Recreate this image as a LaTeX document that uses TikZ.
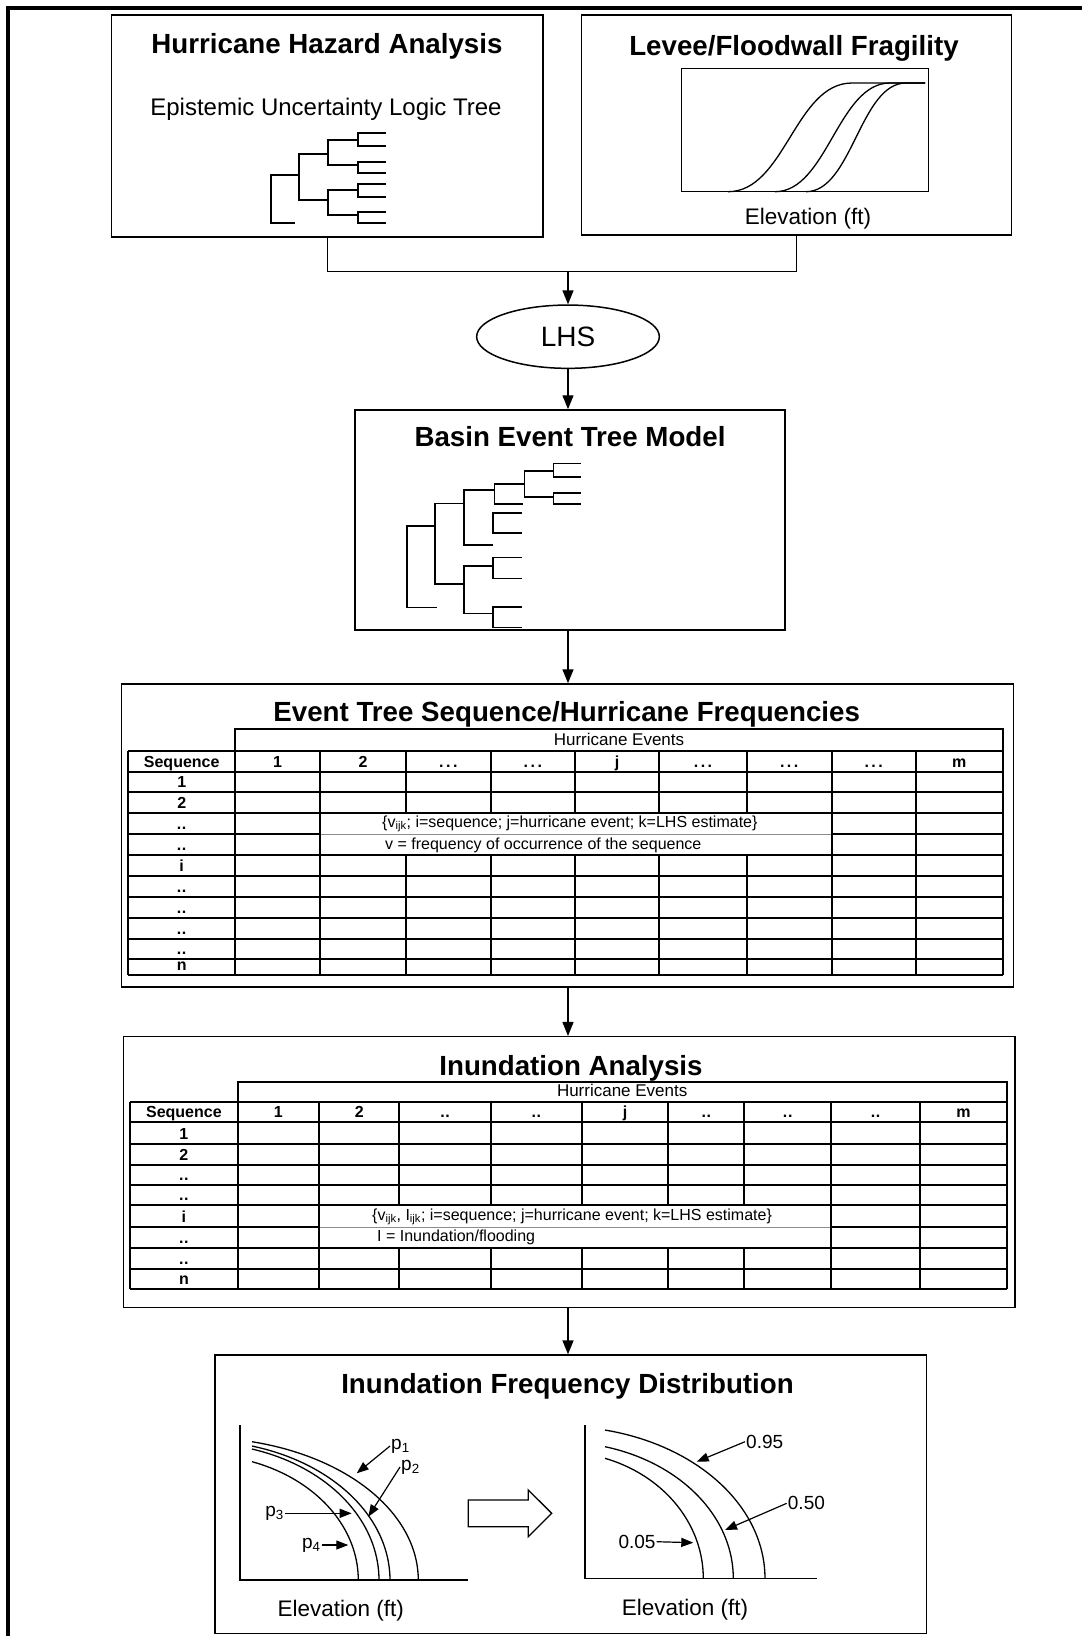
\documentclass[tikz,border=0pt]{standalone}
\usepackage{fontspec}
\setmainfont{Liberation Sans}
\usetikzlibrary{arrows.meta,positioning,shapes.geometric}
\newcommand{\twodots}{.\kern0.6pt.}
\newcommand{\threedots}{.\kern2.5pt.\kern2.5pt.}

\begin{document}
\begin{tikzpicture}[x=1pt,y=-1pt,
  box/.style={draw,line width=1.5pt,inner sep=0pt},
  arr/.style={-{Triangle[length=14pt,width=11pt]},line width=1.4pt},
  parr/.style={-{Triangle[length=12pt,width=9pt]},line width=1.2pt},
  tree/.style={line width=1.6pt},
  grid/.style={line width=1.8pt},
  faint/.style={line width=0.8pt,black!45},
  curve/.style={line width=1.3pt},
  ttl/.style={font=\fontsize{27.7}{30}\selectfont\bfseries,inner sep=0pt,anchor=base},
  sub/.style={font=\fontsize{24}{26}\selectfont,inner sep=0pt,anchor=base},
  axl/.style={font=\fontsize{22.5}{24}\selectfont,inner sep=0pt,anchor=base},
  hd/.style={font=\fontsize{16}{17}\selectfont\bfseries,inner sep=0pt,anchor=base},
  ev/.style={font=\fontsize{17}{18}\selectfont,inner sep=0pt,anchor=base},
  note/.style={font=\fontsize{16}{17}\selectfont,inner sep=0pt,anchor=base west},
  lab/.style={font=\fontsize{19}{20}\selectfont,inner sep=1pt}]
\useasboundingbox (0,0) rectangle (1082,1636);
\draw[line width=4pt] (8,1636) -- (8,8) -- (1082,8);

% top boxes
\node[box,minimum width=431.3pt,minimum height=222pt] (hazard) at (327.35,126) {};
\node[ttl] (hazard-t) at (327,53) {Hurricane Hazard Analysis};
\node[sub] (hazard-s) at (326,115) {Epistemic Uncertainty Logic Tree};
\draw[tree] (299,175) -- (271,175) -- (271,223) -- (295,223);
\draw[tree] (328,154) -- (299,154) -- (299,200) -- (328,200);
\foreach \ya/\yb in {140/165,190/215}
  \draw[tree] (358,\ya) -- (328,\ya) -- (328,\yb) -- (358,\yb);
\foreach \ya/\yb in {133/146,162/173,184/197,212/223}
  \draw[tree] (386,\ya) -- (358,\ya) -- (358,\yb) -- (386,\yb);

\node[box,minimum width=430pt,minimum height=220pt] (levee) at (796.7,125) {};
\node[ttl] (levee-t) at (794,55) {Levee/Floodwall Fragility};
\node[box,minimum width=246.6pt,minimum height=123.4pt] (frag) at (805,130) {};
\draw[curve] (728,191.7) .. controls (785,191.7) and (795,83) .. (852,83) -- (925,83);
\draw[curve] (775,191.7) .. controls (827,191.7) and (838,83) .. (890,83) -- (925,83);
\draw[curve] (806,191.7) .. controls (852,191.7) and (860,83) .. (906,83) -- (925,83);
\node[axl] (levee-x) at (808,224) {Elevation (ft)};

% LHS
\coordinate (join) at (568,271.7);
\node[box,ellipse,minimum width=182.7pt,minimum height=63.3pt,font=\fontsize{28}{30}\selectfont] (lhs) at (568,336.7) {LHS};
\draw[line width=1.4pt] (hazard.south) |- (join) -| (levee.south);
\draw[arr] (join) -- (lhs.north);

% basin event tree
\node[box,minimum width=430pt,minimum height=220pt] (basin) at (570,520) {};
\node[ttl] (basin-t) at (570,446.7) {Basin Event Tree Model};
\draw[arr] (lhs.south) -- (basin.north -| lhs.south);
\draw[tree] (435,526) -- (406.7,526) -- (406.7,607.3) -- (436.7,607.3);
\draw[tree] (464,503.3) -- (435,503.3) -- (435,584) -- (464,584);
\draw[tree] (494.3,490) -- (464,490) -- (464,545) -- (492.7,545);
\draw[tree] (524.3,484) -- (494.3,484) -- (494.3,504) -- (522.7,504);
\draw[tree] (553.3,470.7) -- (524.3,470.7) -- (524.3,496.7) -- (553.3,496.7);
\foreach \ya/\yb in {463.3/476.7,492.7/504}
  \draw[tree] (580.7,\ya) -- (553.3,\ya) -- (553.3,\yb) -- (580.7,\yb);
\draw[tree] (492.7,566) -- (464,566) -- (464,613.3) -- (492.7,613.3);
\foreach \ya/\yb in {512.7/532.7,557.3/578.3,606.7/627.3}
  \draw[tree] (522,\ya) -- (492.7,\ya) -- (492.7,\yb) -- (522,\yb);

% sequence frequency table
\node[box,minimum width=891.6pt,minimum height=303pt] (seqtab) at (567.5,835.5) {};
\node[ttl] (seqtab-t) at (566.7,721.7) {Event Tree Sequence/Hurricane Frequencies};
\draw[arr] (basin.south -| join) -- (seqtab.north -| join);
\draw[grid] (235,729.3) rectangle (1002.7,750.7);
\node[ev] (seqtab-h) at (619,745.7) {Hurricane Events};
\foreach \y in {750.7,771.7,792,812.7,855.3,876.3,897.3,918.3,939.3,959.3,975}
  \draw[grid] (128.3,\y) -- (1002.7,\y);
\draw[grid] (128.3,834) -- (320,834) (831.7,834) -- (1002.7,834);
\draw[faint] (320,834) -- (831.7,834);
\foreach \x in {128.3,235,320,831.7,915.7,1002.7}
  \draw[grid] (\x,750.7) -- (\x,975);
\foreach \x in {406,490.7,575,659.3,746.7}
  \draw[grid] (\x,750.7) -- (\x,812.7) (\x,855.3) -- (\x,975);
\foreach \lab/\y [count=\k] in {Sequence/767.2,1/787.5,2/808.2,\twodots/829.5,\twodots/850.8,i/871.8,\twodots/892.8,\twodots/913.8,\twodots/934.8,\twodots/954.8,n/970.5}
  \node[hd] (seqtab-r\k) at (181.7,\y) {\lab};
\foreach \x/\lab [count=\k] in {277.5/1,363/2,448.4/\threedots,532.9/\threedots,617.2/j,703/\threedots,789.2/\threedots,873.7/\threedots,959.2/m}
  \node[hd] (seqtab-c\k) at (\x,767.2) {\lab};
\node[note] (seqtab-n1) at (382,827) {\{v\textsubscript{ijk}; i=sequence; j=hurricane event; k=LHS estimate\}};
\node[note] (seqtab-n2) at (385,849) {v = frequency of occurrence of the sequence};

% inundation table
\node[box,minimum width=891.7pt,minimum height=270.6pt] (inutab) at (569.2,1172) {};
\node[ttl] (inutab-t) at (571,1075) {Inundation Analysis};
\draw[arr] (seqtab.south -| join) -- (inutab.north -| join);
\draw[grid] (237.7,1081.7) rectangle (1006.7,1101.7);
\node[ev] (inutab-h) at (622.2,1096.7) {Hurricane Events};
\foreach \y in {1101.7,1121.7,1144,1165,1185,1205,1248.3,1269.3,1289.3}
  \draw[grid] (130,\y) -- (1006.7,\y);
\draw[grid] (130,1227.3) -- (319,1227.3) (831,1227.3) -- (1006.7,1227.3);
\draw[faint] (319,1227.3) -- (831,1227.3);
\foreach \x in {130,237.7,319,831,920,1006.7}
  \draw[grid] (\x,1101.7) -- (\x,1289.3);
\foreach \x in {399.3,490.7,582,668.3,744.3}
  \draw[grid] (\x,1101.7) -- (\x,1205) (\x,1248.3) -- (\x,1289.3);
\foreach \lab/\y [count=\k] in {Sequence/1117.2,1/1139.5,2/1160.5,\twodots/1180.5,\twodots/1200.5,i/1222.8,\twodots/1243.8,\twodots/1264.8,n/1284.8}
  \node[hd] (inutab-r\k) at (183.9,\y) {\lab};
\foreach \x/\lab [count=\k] in {278.4/1,359.2/2,445/\twodots,536.4/\twodots,625.2/j,706.3/\twodots,787.7/\twodots,875.5/\twodots,963.4/m}
  \node[hd] (inutab-c\k) at (\x,1117.2) {\lab};
\node[note] (inutab-n1) at (372,1220) {\{v\textsubscript{ijk}, I\textsubscript{ijk}; i=sequence; j=hurricane event; k=LHS estimate\}};
\node[note] (inutab-n2) at (377,1241.7) {I = Inundation/flooding};

% inundation frequency distribution
\node[box,minimum width=711.7pt,minimum height=278.3pt] (freq) at (570.85,1494.2) {};
\node[ttl] (freq-t) at (567.5,1393) {Inundation Frequency Distribution};
\draw[arr] (inutab.south -| join) -- (freq.north -| join);
\draw[tree] (240,1425) -- (240,1580) -- (468.3,1580);
\foreach \ra/\rb/\ang in {218.3/142.4/76.2,190/139.3/74.1,179/136.9/73.1,158.3/125.3/70.8}
  \draw[curve] plot[domain=\ang:0,samples=40] ({200+\ra*cos(\x)},{1580-\rb*sin(\x)});
\node[lab,anchor=west] (p1) at (390,1446) {p\textsubscript{1}};
\node[lab,anchor=west] (p2) at (400,1467) {p\textsubscript{2}};
\node[lab,anchor=east] (p3) at (285,1513.3) {p\textsubscript{3}};
\node[lab,anchor=east] (p4) at (321.7,1545) {p\textsubscript{4}};
\coordinate (p1-tip) at (356.7,1473.3);
\coordinate (p2-tip) at (368.3,1516.7);
\coordinate (p3-tip) at (351.7,1513.3);
\coordinate (p4-tip) at (348.3,1545);
\foreach \p in {p1,p2}
  \draw[parr] (\p.west) -- (\p-tip);
\foreach \p in {p3,p4}
  \draw[parr] (\p.east) -- (\p-tip);
\node[axl] (freq-x1) at (340.8,1616.7) {Elevation (ft)};
\draw[line width=1.3pt] (468.3,1500) -- (528.3,1500) -- (528.3,1490) -- (551.7,1513.3) -- (528.3,1536.7) -- (528.3,1526.7) -- (468.3,1526.7) -- cycle;
\draw[tree] (585,1425) -- (585,1578.3) -- (816.7,1578.3);
\foreach \ra/\rb/\ang in {205/152/77.3,173.3/136.3/74.95,143.3/126.4/71.7}
  \draw[curve] plot[domain=\ang:0,samples=40] ({560+\ra*cos(\x)},{1578.3-\rb*sin(\x)});
\node[lab,anchor=west] (q95) at (745,1441.7) {0.95};
\node[lab,anchor=west] (q50) at (786.7,1503.3) {0.50};
\node[lab,anchor=east] (q05) at (656.7,1541.7) {0.05};
\coordinate (q95-tip) at (696.7,1461.7);
\coordinate (q50-tip) at (725,1530);
\coordinate (q05-tip) at (693.3,1542.7);
\draw[parr] (q95.west) -- (q95-tip);
\draw[parr] (q50.west) -- (q50-tip);
\draw[parr] (q05.east) -- (q05-tip);
\node[axl] (freq-x2) at (685,1615) {Elevation (ft)};
\end{tikzpicture}
\end{document}
